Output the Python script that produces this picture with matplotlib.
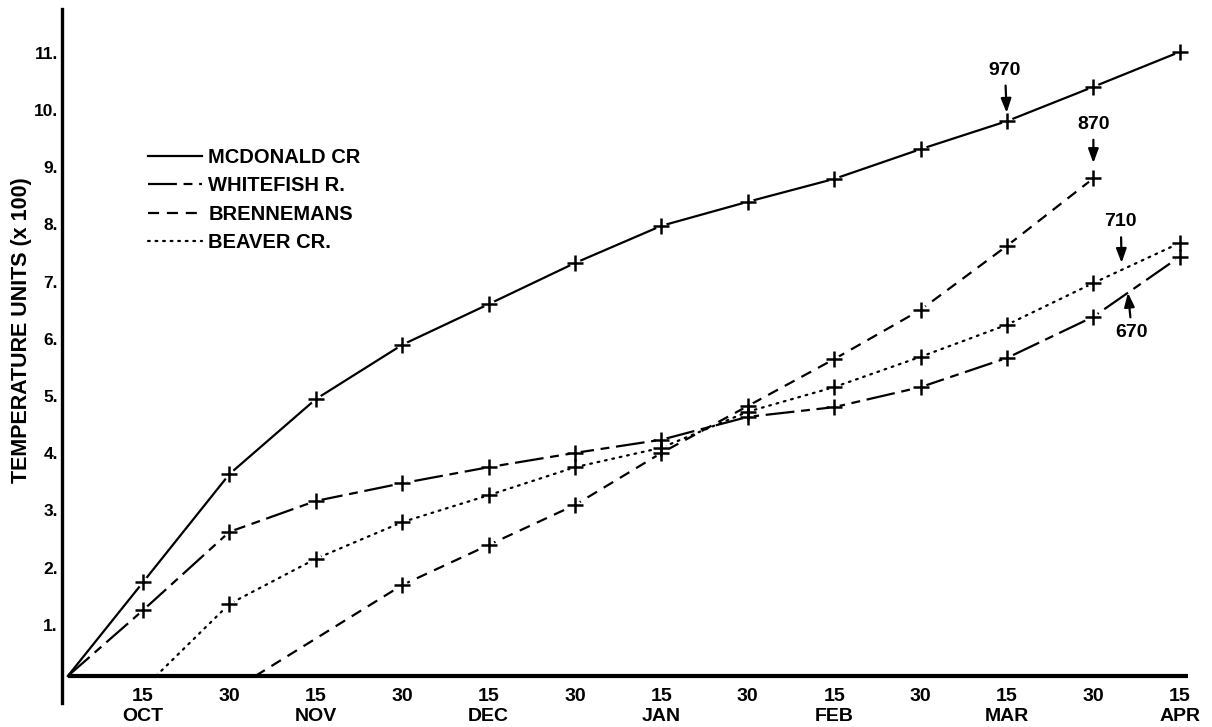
import numpy as np
import matplotlib
matplotlib.use("Agg")
import matplotlib.pyplot as plt

plt.rcParams["font.family"] = ["Liberation Sans", "DejaVu Sans"]
plt.rcParams["font.weight"] = "bold"

# Half-month sampling dates; position 0 = 15 October, origin = 1 October
tick_days = ["15", "30", "15", "30", "15", "30", "15", "30", "15", "30", "15", "30", "15"]
tick_months = ["OCT", "", "NOV", "", "DEC", "", "JAN", "", "FEB", "", "MAR", "", "APR"]
origin_pos = -0.87
axis_end = 12.1

# Accumulated temperature units (x 100)
mcdonald_x = [origin_pos, 0, 1, 2, 3, 4, 5, 6, 7, 8, 9, 10, 11, 12]
mcdonald_y = [0, 1.64, 3.53, 4.84, 5.79, 6.50, 7.22, 7.87, 8.29, 8.69, 9.21, 9.70, 10.30, 10.91]

whitefish_x = [origin_pos, 0, 1, 2, 3, 4, 5, 6, 7, 8, 9, 10, 11, 12]
whitefish_y = [0, 1.15, 2.52, 3.06, 3.37, 3.65, 3.90, 4.13, 4.53, 4.70, 5.05, 5.56, 6.28, 7.33]

brennemans_x = [1.3, 3, 4, 5, 6, 7, 8, 9, 10, 11]
brennemans_y = [0, 1.59, 2.29, 2.99, 3.90, 4.72, 5.54, 6.40, 7.52, 8.70]

beaver_x = [0.15, 1, 2, 3, 4, 5, 6, 7, 8, 9, 10, 11, 12]
beaver_y = [0, 1.26, 2.05, 2.69, 3.16, 3.65, 3.99, 4.62, 5.05, 5.58, 6.14, 6.87, 7.57]

y_ticks = [1, 2, 3, 4, 5, 6, 7, 8, 9, 10, 11]

series = [
    ("MCDONALD CR", mcdonald_x, mcdonald_y, "-"),
    ("WHITEFISH R.", whitefish_x, whitefish_y, (0, (13, 3, 4, 3))),
    ("BRENNEMANS", brennemans_x, brennemans_y, (0, (5, 3.5))),
    ("BEAVER CR.", beaver_x, beaver_y, (0, (0.8, 2.6))),
]

# Labelled accumulation values: (text, series index, value, text offset in px, arrow gap)
notes = [
    ("970", 0, 9.70, (-2, 51), 6),
    ("870", 2, 8.70, (0, 54), 11),
    ("710", 3, 7.10, (-1, 48), 5),
    ("670", 1, 6.70, (4, -40), 0),
]

fig = plt.figure(figsize=(12.12, 7.27), dpi=100)
ax = fig.add_axes([0.05116, 0.03301, 0.94884, 0.95461])
ax.set_xlim(-0.938, 12.373)
ax.set_ylim(-0.472, 11.66)

for s in ["top", "right"]:
    ax.spines[s].set_visible(False)
ax.spines["left"].set_linewidth(2.4)
# Time axis sits on zero and runs from the 1 October origin
ax.spines["bottom"].set_position(("data", 0))
ax.spines["bottom"].set_bounds(origin_pos, axis_end)
ax.spines["bottom"].set_linewidth(3.0)
ax.spines["bottom"].set_capstyle("butt")

handles = []
for label, xs, ys, ls in series:
    (ln,) = ax.plot(xs, ys, color="black", lw=1.6, linestyle=ls,
                    dash_capstyle="round" if label.startswith("BEAVER") else "butt",
                    label=label, zorder=3)
    handles.append(ln)

# Clear a small gap around each plotted point, then draw the crosses
for label, xs, ys, ls in series:
    px = [x for x, y in zip(xs, ys) if y > 0]
    py = [y for y in ys if y > 0]
    ax.plot(px, py, "o", ms=8, color="white", mec="none", zorder=4)
for label, xs, ys, ls in series:
    px = [x for x, y in zip(xs, ys) if y > 0]
    py = [y for y in ys if y > 0]
    ax.plot(px, py, "+", ms=11, mew=1.8, color="black", zorder=5)

for text, idx, val, off, gap in notes:
    xs, ys = series[idx][1], series[idx][2]
    xv = float(np.interp(val, ys, xs))
    ax.annotate(text, xy=(xv, val), xytext=off, textcoords="offset pixels",
                ha="center", va="center", fontsize=14, fontweight="bold",
                arrowprops=dict(arrowstyle="-|>,head_length=0.6,head_width=0.22",
                                mutation_scale=14, color="black", lw=1.6,
                                shrinkA=3, shrinkB=gap))

ax.set_xticks(range(len(tick_days)))
ax.set_xticklabels([d if not m else f"{d}\n{m}" for d, m in zip(tick_days, tick_months)],
                   fontsize=14, fontweight="bold", linespacing=1.22)
ax.tick_params(axis="x", length=0, pad=8.5)

ax.set_yticks(y_ticks)
ax.set_yticklabels([f"{v}." for v in y_ticks], fontsize=12.5, fontweight="bold")
ax.tick_params(axis="y", length=0, pad=3)
plt.setp(ax.get_yticklabels(), va="top")

fig.text(22 / 1212, 1 - 330 / 727, "TEMPERATURE UNITS (x 100)", rotation=90,
         ha="center", va="center", fontsize=15.5, fontweight="bold")

ax.legend(handles=handles, loc="upper left", bbox_to_anchor=(0.0748, 0.80),
          frameon=False, fontsize=14.5, handlelength=2.7, handletextpad=0.3,
          labelspacing=0.47, borderpad=0, borderaxespad=0)

fig.savefig("out.png", dpi=100, facecolor="white")
